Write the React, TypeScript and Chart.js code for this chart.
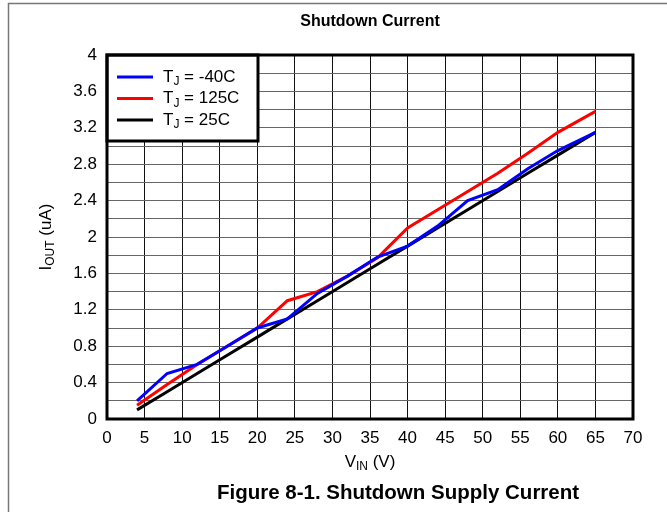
import React, { useEffect, useRef } from 'react';
import { Chart, registerables } from 'chart.js';

Chart.register(...registerables);

const vin = [4, 8, 12, 16, 20, 24, 28, 32, 36, 40, 44, 48, 52, 56, 60, 65];
const iMinus40 = [0.2, 0.5, 0.6, 0.8, 1.0, 1.1, 1.38, 1.57, 1.78, 1.9, 2.12, 2.4, 2.52, 2.75, 2.95, 3.15];
const i125 = [0.15, 0.38, 0.6, 0.8, 1.0, 1.3, 1.4, 1.57, 1.77, 2.1, 2.3, 2.5, 2.7, 2.92, 3.15, 3.38];
const i25 = [0.1, 0.3, 0.5, 0.7, 0.9, 1.1, 1.3, 1.5, 1.7, 1.9, 2.1, 2.3, 2.5, 2.7, 2.9, 3.15];

const seriesNames = ['-40C', '125C', '25C'];
const seriesColors = ['#0000ff', '#ff0000', '#000000'];
const yLabelValues = [0, 0.4, 0.8, 1.2, 1.6, 2, 2.4, 2.8, 3.2, 3.6, 4];

const FONT = '"Liberation Sans", Arial, Helvetica, sans-serif';

type Part = { text: string; sub?: boolean };

function drawRich(ctx: CanvasRenderingContext2D, parts: Part[], x: number, y: number, size: number, align: 'left' | 'center', bold = false) {
  const subSize = Math.round(size * 0.7);
  const w = (p: Part) => {
    ctx.font = `${bold ? 'bold ' : ''}${p.sub ? subSize : size}px ${FONT}`;
    return ctx.measureText(p.text).width;
  };
  const total = parts.reduce((s, p) => s + w(p), 0);
  let cx = align === 'center' ? x - total / 2 : x;
  ctx.textAlign = 'left';
  ctx.textBaseline = 'middle';
  ctx.fillStyle = '#000';
  for (const p of parts) {
    ctx.font = `${bold ? 'bold ' : ''}${p.sub ? subSize : size}px ${FONT}`;
    ctx.fillText(p.text, cx, p.sub ? y + size * 0.3 : y);
    cx += ctx.measureText(p.text).width;
  }
}

const decor = {
  id: 'decor',
  beforeDraw(chart: any) {
    const ctx = chart.ctx as CanvasRenderingContext2D;
    ctx.save();
    ctx.fillStyle = '#fff';
    ctx.fillRect(0, 0, chart.width, chart.height);
    ctx.strokeStyle = '#777';
    ctx.lineWidth = 1.5;
    ctx.strokeRect(8.5, 3.5, 800, 800);
    ctx.restore();
  },
  afterDatasetsDraw(chart: any) {
    const ctx = chart.ctx as CanvasRenderingContext2D;
    const a = chart.chartArea;
    ctx.save();
    const lx = a.left, ly = a.top, lw = 151, lh = 86;
    ctx.fillStyle = '#fff';
    ctx.fillRect(lx, ly, lw, lh);
    ctx.strokeStyle = '#000';
    ctx.lineWidth = 3;
    ctx.strokeRect(lx, ly, lw, lh);
    seriesNames.forEach((n, i) => {
      const yy = ly + 22 + i * 21.5;
      ctx.strokeStyle = seriesColors[i];
      ctx.lineWidth = 3;
      ctx.beginPath();
      ctx.moveTo(lx + 10, yy);
      ctx.lineTo(lx + 46, yy);
      ctx.stroke();
      drawRich(ctx, [{ text: 'T' }, { text: 'J', sub: true }, { text: ' = ' + n }], lx + 56, yy, 17, 'left');
    });
    ctx.strokeStyle = '#000';
    ctx.lineWidth = 3;
    ctx.strokeRect(a.left, a.top, a.right - a.left, a.bottom - a.top);
    ctx.restore();
  },
  afterDraw(chart: any) {
    const ctx = chart.ctx as CanvasRenderingContext2D;
    const a = chart.chartArea;
    ctx.save();
    const cx = (a.left + a.right) / 2;
    drawRich(ctx, [{ text: 'Shutdown Current' }], cx, 22, 16, 'center', true);
    drawRich(ctx, [{ text: 'V' }, { text: 'IN', sub: true }, { text: ' (V)' }], cx, 462, 17, 'center');
    drawRich(ctx, [{ text: 'Figure 8-1. Shutdown Supply Current' }], 398, 493, 20.5, 'center', true);
    ctx.translate(46, (a.top + a.bottom) / 2);
    ctx.rotate(-Math.PI / 2);
    drawRich(ctx, [{ text: 'I' }, { text: 'OUT', sub: true }, { text: ' (uA)' }], 0, 0, 17, 'center');
    ctx.restore();
  },
};

export default function App() {
  const ref = useRef<HTMLCanvasElement>(null);
  useEffect(() => {
    if (!ref.current) return;
    const mk = (vals: number[]) => vin.map((x, i) => ({ x, y: vals[i] }));
    const chart = new Chart(ref.current, {
      type: 'line',
      data: {
        datasets: [iMinus40, i125, i25].map((vals, i) => ({
          label: seriesNames[i],
          data: mk(vals),
          borderColor: seriesColors[i],
          borderWidth: 3,
          pointRadius: 0,
          tension: 0,
          fill: false,
        })),
      },
      options: {
        animation: false,
        responsive: false,
        layout: { padding: { left: 0, top: 55, right: 34, bottom: 0 } },
        plugins: { legend: { display: false }, title: { display: false }, tooltip: { enabled: false } },
        scales: {
          x: {
            type: 'linear',
            min: 0,
            max: 70,
            ticks: { stepSize: 5, color: '#000', font: { family: FONT, size: 17 }, padding: 9, maxRotation: 0, autoSkip: false },
            grid: { color: '#111', lineWidth: 1, drawTicks: false },
            border: { display: false },
            afterFit(scale: any) { scale.height = 93; },
          },
          y: {
            type: 'linear',
            min: 0,
            max: 4,
            ticks: {
              stepSize: 0.2,
              color: '#000',
              font: { family: FONT, size: 17 },
              padding: 10,
              autoSkip: false,
              callback: (v: any) => {
                const n = Number(Number(v).toFixed(1));
                return yLabelValues.some((t) => Math.abs(t - n) < 1e-6) ? String(n) : '';
              },
            },
            grid: { color: '#666', lineWidth: 1, drawTicks: false },
            border: { display: false },
            afterFit(scale: any) { scale.width = 107; },
          },
        },
      },
      plugins: [decor],
    });
    return () => chart.destroy();
  }, []);
  return (
    <div style={{ position: 'absolute', left: 0, top: 0, width: 667, height: 512 }}>
      <canvas ref={ref} width={667} height={512} />
    </div>
  );
}
